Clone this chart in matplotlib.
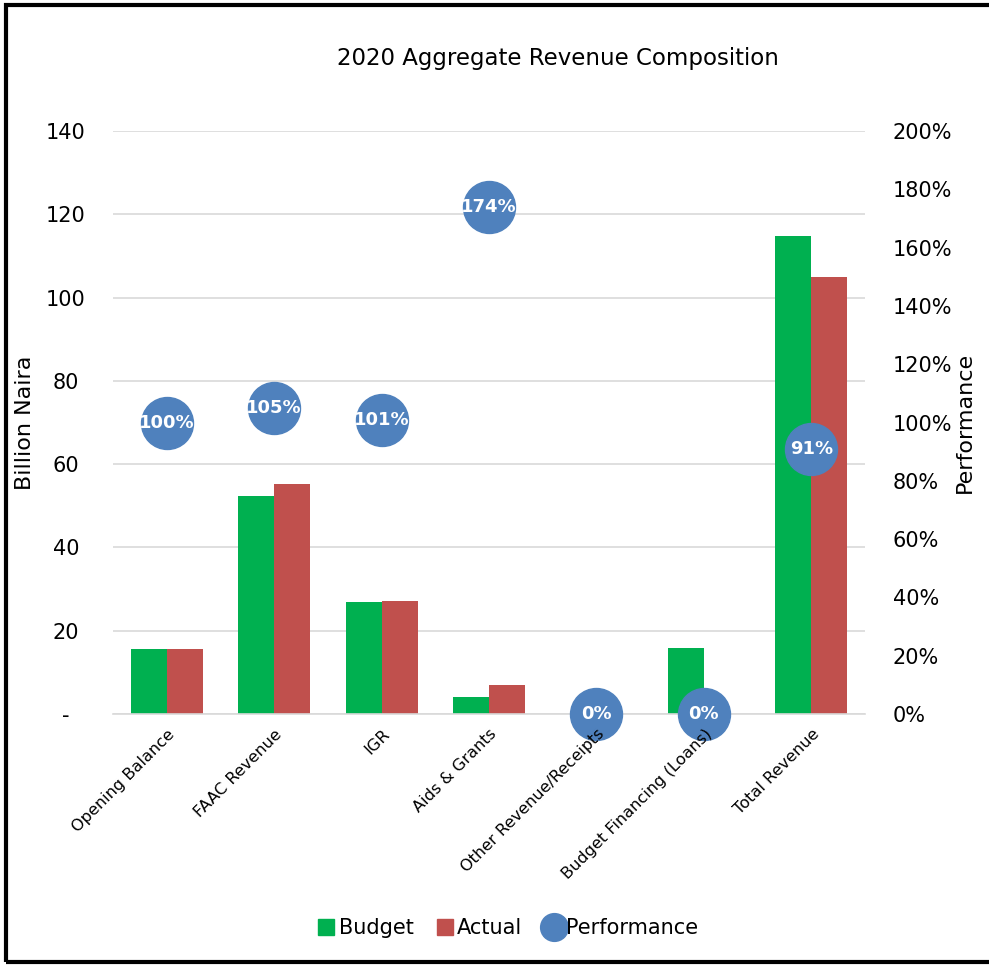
import matplotlib
matplotlib.use("Agg")
import matplotlib.pyplot as plt
import numpy as np
from matplotlib.patches import Rectangle
from matplotlib.lines import Line2D
from matplotlib.ticker import FuncFormatter

categories = ["Opening Balance", "FAAC Revenue", "IGR", "Aids & Grants",
              "Other Revenue/Receipts", "Budget Financing (Loans)", "Total Revenue"]
budget = [15.6, 52.4, 26.9, 4.1, 0.0, 15.9, 114.8]
actual = [15.6, 55.2, 27.1, 7.0, 0.0, 0.0, 105.0]
performance = [100, 105, 101, 174, 0, 0, 91]
perf_labels = ["100%", "105%", "101%", "174%", "0%", "0%", "91%"]

green = "#00B050"
red = "#C0504D"
blue = "#4F81BD"

fig = plt.figure(figsize=(9.89, 9.65), dpi=100)
ax = fig.add_axes([113/989, 1 - 714/965, 752/989, 583/965])
ax2 = ax.twinx()

x = np.arange(len(categories))
w = 0.335
ax.bar(x - w/2, budget, w, color=green, zorder=2)
ax.bar(x + w/2, actual, w, color=red, zorder=2)

ax.set_xlim(-0.5, len(categories) - 0.5)
ax.set_ylim(0, 140)
ax.set_yticks(range(0, 141, 20))
ax.yaxis.set_major_formatter(FuncFormatter(lambda v, p: "-" if v == 0 else f"{int(v)}"))
ax.grid(axis="y", color="#D9D9D9", linewidth=1.2, zorder=0)
ax.set_axisbelow(True)
for s in ["top", "left", "right"]:
    ax.spines[s].set_visible(False)
    ax2.spines[s].set_visible(False)
ax.spines["bottom"].set_color("#D9D9D9")
ax.spines["bottom"].set_linewidth(1.2)
ax2.spines["bottom"].set_visible(False)
ax.tick_params(axis="y", length=0, labelsize=15, pad=34)
ax.tick_params(axis="x", length=0, labelbottom=False)
for lab in ax.get_yticklabels():
    lab.set_horizontalalignment("center")
ax.set_ylabel("Billion Naira", fontsize=16, labelpad=8)

# category labels on twin axis so they sit above the circles
ax2.xaxis.set_visible(True)
ax2.xaxis.set_zorder(7)
ax2.set_xticks(x)
ax2.set_xticklabels(categories, rotation=45, ha="right", rotation_mode="anchor", fontsize=11.6)
ax2.tick_params(axis="x", length=0, pad=9, labelbottom=True)
for lab in ax2.get_xticklabels():
    lab.set_x(lab.get_position()[0])

ax2.set_ylim(0, 200)
ax2.set_yticks(range(0, 201, 20))
ax2.yaxis.set_major_formatter(FuncFormatter(lambda v, p: f"{int(v)}%"))
ax2.tick_params(axis="y", length=0, labelsize=15, pad=20)
ax2.set_ylabel("Performance", fontsize=16, labelpad=2)

ax2.scatter(x, performance, s=1400, color=blue, zorder=5, clip_on=False)
for xi, pv, lb in zip(x, performance, perf_labels):
    ax2.text(xi, pv, lb, ha="center", va="center", color="white",
             fontsize=13, fontweight="bold", zorder=6, clip_on=False)

fig.text(558/989, 1 - 58/965, "2020 Aggregate Revenue Composition",
         ha="center", va="center", fontsize=16.5)

handles = [
    Line2D([], [], marker="s", linestyle="none", color=green, markersize=11),
    Line2D([], [], marker="s", linestyle="none", color=red, markersize=11),
    Line2D([], [], marker="o", linestyle="none", color=blue, markersize=20),
]
fig.legend(handles, ["Budget", "Actual", "Performance"], loc="center",
           bbox_to_anchor=(507/989, 1 - 928/965), ncol=3, frameon=False,
           fontsize=15, handletextpad=0.1, columnspacing=1.0, handlelength=1.0)

fig.patches.append(Rectangle((6/989, 1 - 962/965), 1.2, 957/965, transform=fig.transFigure,
                             fill=False, edgecolor="black", linewidth=3))

fig.savefig("out.png", dpi=100)
